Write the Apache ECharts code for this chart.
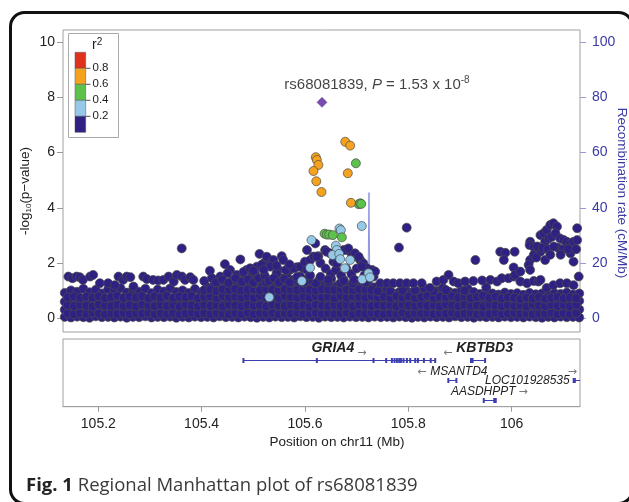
<!DOCTYPE html>
<html>
<head>
<meta charset="utf-8">
<script src="https://cdn.jsdelivr.net/npm/echarts@6/dist/echarts.min.js"></script>
<style>
  html, body { margin: 0; padding: 0; background: #fff; }
  #chart { width: 629px; height: 502px; }
</style>
</head>
<body>
<div id="chart"></div>
<script>
// ---- data ----
// lead SNP
const leadName = 'rs68081839';
const leadP = '1.53';
const leadExp = '-8';
const leadSnp = [[105.633, 7.815]];

// r2 >= 0.6 (orange)
const snpOrange = [[105.678,6.39],[105.6876,6.25],[105.621,5.83],[105.623,5.73],[105.626,5.55],[105.6165,5.33],
  [105.683,5.25],[105.622,4.96],[105.632,4.57],[105.689,4.18]];
// 0.4 - 0.6 (green)
const snpGreen = [[105.6986,5.61],[105.704,4.13],[105.707,4.16],[105.709,4.14],[105.638,3.06],[105.6424,3.03],
  [105.647,3.03],[105.654,3.01],[105.6715,2.93]];
// 0.2 - 0.4 (light blue)
const snpLightBlue = [[105.710,3.34],[105.6668,3.25],[105.6695,3.19],[105.6126,2.83],[105.6598,2.63],[105.6617,2.47],
  [105.6533,2.29],[105.6663,2.33],[105.6682,2.14],[105.6875,2.11],[105.610,1.83],[105.6773,1.81],[105.594,1.35],
  [105.711,1.41],[105.723,1.63],[105.726,1.48],[105.531,0.76]];

// r2 < 0.2 (navy): the dense floor, one column per entry [pos, values...]
const floorCols = [
  [105.135,.05,.31,.6,.92],[105.147,.03,.34,.57,1.01],[105.159,.06,.29,.63,.96],[105.171,.04,.33,.6,1.07],
  [105.183,.02,.3,.58,.94],[105.195,.07,.35,.62,1.03],[105.207,.04,.28,.59,.9],[105.219,.05,.32,.61,1.05],
  [105.231,.03,.36,.56,.98],[105.243,.06,.3,.64,1.09],[105.255,.02,.33,.6,.93],[105.267,.05,.29,.62,1.02],
  [105.279,.04,.34,.58,.96],[105.291,.07,.31,.63,1.07],[105.303,.03,.28,.57,.91],[105.315,.05,.35,.61,1.04],
  [105.327,.04,.3,.59,.97],[105.339,.06,.33,.63,1.08],[105.351,.02,.29,.6,.95],[105.363,.05,.32,.56,1.01],
  [105.375,.03,.36,.62,.92],[105.387,.06,.3,.58,1.06],[105.399,.04,.34,.63,.94],[105.411,.05,.28,.6,.89,1.12],
  [105.423,.03,.33,.61,.9,1.17],[105.435,.07,.31,.57,.86,1.08],[105.447,.04,.35,.63,.91,1.19],
  [105.459,.05,.3,.59,.87,1.14,1.38],[105.471,.03,.33,.62,.9,1.2],[105.483,.06,.29,.58,.88,1.15,1.42],
  [105.495,.04,.34,.61,.93,1.1],[105.507,.02,.31,.64,.89,1.18,1.33],[105.519,.05,.28,.59,.86,1.22],
  [105.531,.03,.33,.6,.91,1.13,1.39],[105.543,.06,.3,.62,.88,1.17],[105.555,.04,.35,.57,.92,1.2,1.45],
  [105.567,.05,.29,.61,.87,1.12],[105.579,.03,.32,.63,.9,1.16,1.36],[105.591,.07,.34,.58,.89,1.21],
  [105.603,.04,.3,.6,.93,1.14,1.41],[105.615,.05,.33,.62,.87,1.19],[105.627,.02,.28,.59,.9,1.15,1.37],
  [105.639,.06,.31,.61,.88,1.22],[105.651,.04,.35,.57,.92,1.13,1.43],[105.663,.05,.29,.63,.86,1.18],
  [105.675,.03,.32,.6,.91,1.16,1.39],[105.687,.06,.34,.58,.89,1.2],[105.699,.04,.3,.62,.93,1.14,1.35],
  [105.711,.05,.33,.59,.87,1.17],[105.723,.03,.28,.61,.9,1.21,1.4],[105.735,.06,.31,.63,.88,1.12],
  [105.747,.04,.35,.6,.92,1.06],[105.759,.05,.3,.57,.86,1.02],[105.771,.03,.33,.62,.91],
  [105.783,.06,.29,.59,.95],[105.795,.04,.34,.61,.88,1.05],[105.807,.02,.31,.63,.93],[105.819,.05,.28,.58,.97],
  [105.831,.03,.32,.6,.9,1.08],[105.843,.06,.35,.62,.94],[105.855,.04,.3,.57,.99],[105.867,.05,.33,.61,.89,1.1],
  [105.879,.03,.29,.64,.96],[105.891,.07,.34,.59,.92],[105.903,.04,.31,.62,1.0],[105.915,.05,.28,.58,.91,1.07],
  [105.927,.02,.33,.6,.95],[105.939,.06,.3,.63,.88],[105.951,.04,.35,.61,.97,1.12],[105.963,.05,.29,.57,.9],
  [105.975,.03,.32,.62,.86],[105.987,.06,.34,.59,.93],[105.999,.04,.3,.61,.88],[106.011,.05,.33,.64,.91],
  [106.023,.03,.28,.58,.85],[106.035,.06,.31,.6,.92],[106.047,.04,.35,.63,.87],[106.059,.02,.3,.57,.9],
  [106.071,.05,.33,.61,.84],[106.083,.03,.29,.59,.91],[106.095,.06,.34,.62,.88],[106.107,.04,.31,.58,.93],
  [106.119,.05,.28,.6,.86],[106.131,.03,.32,.63,.9]
];
// second, staggered set of floor columns
const floorCols2 = [
  [105.141,.18,.47,.76],[105.153,.15,.44,.79],[105.165,.19,.48,.74],[105.177,.16,.45,.78],[105.189,.2,.43,.75],
  [105.201,.17,.49,.8],[105.213,.14,.46,.73],[105.225,.18,.44,.77],[105.237,.16,.48,.81],[105.249,.19,.45,.74],
  [105.261,.15,.47,.78],[105.273,.18,.43,.76],[105.285,.17,.49,.8],[105.297,.2,.46,.73],[105.309,.14,.44,.79],
  [105.321,.18,.48,.75],[105.333,.16,.45,.81],[105.345,.19,.47,.74],[105.357,.15,.43,.78],[105.369,.17,.49,.76],
  [105.381,.2,.46,.8],[105.393,.16,.44,.73],[105.405,.18,.48,.77,1.02],[105.417,.15,.45,.79,1.05],
  [105.429,.19,.47,.74,.98],[105.441,.17,.43,.8,1.04],[105.453,.14,.49,.76,1.03],[105.465,.18,.46,.78,1.06],
  [105.477,.16,.44,.75,1.01],[105.489,.2,.48,.79,1.04],[105.501,.15,.45,.73,1.05,1.28],[105.513,.18,.47,.81,1.02],
  [105.525,.17,.43,.76,1.06,1.3],[105.537,.19,.49,.78,1.03],[105.549,.14,.46,.74,1.01,1.27],[105.561,.18,.44,.8,1.05],
  [105.573,.16,.48,.77,1.04,1.29],[105.585,.2,.45,.75,1.02],[105.597,.15,.47,.79,1.06,1.3],[105.609,.17,.43,.74,1.03],
  [105.621,.19,.49,.8,1.01,1.27],[105.633,.16,.46,.76,1.05],[105.645,.18,.44,.78,1.04,1.31],[105.657,.15,.48,.73,1.02],
  [105.669,.17,.45,.81,1.06,1.28],[105.681,.2,.47,.75,1.03],[105.693,.14,.43,.79,1.01,1.26],[105.705,.18,.49,.77,1.05],
  [105.717,.16,.46,.74,1.04,1.3],[105.729,.19,.44,.8,1.02],[105.741,.17,.48,.76,.98],[105.753,.15,.45,.78],
  [105.765,.18,.47,.74,.99],[105.777,.16,.43,.8],[105.789,.2,.49,.75,1.0],[105.801,.14,.46,.79],
  [105.813,.18,.44,.73,1.01],[105.825,.17,.48,.77],[105.837,.19,.45,.81],[105.849,.15,.47,.74,.98],
  [105.861,.18,.43,.78],[105.873,.16,.49,.76,1.02],[105.885,.2,.46,.8],[105.897,.15,.44,.75],
  [105.909,.17,.48,.79,1.0],[105.921,.19,.45,.73],[105.933,.14,.47,.77],[105.945,.18,.43,.81],
  [105.957,.16,.49,.74],[105.969,.2,.46,.78],[105.981,.15,.44,.72],[105.993,.17,.48,.76],
  [106.005,.19,.45,.74],[106.017,.16,.47,.7],[106.029,.18,.43,.75],[106.041,.14,.49,.72],
  [106.053,.18,.46,.76],[106.065,.17,.44,.71],[106.077,.2,.48,.74],[106.089,.15,.45,.77],
  [106.101,.18,.47,.72],[106.113,.16,.43,.75],[106.125,.19,.49,.73]
];
// navy points standing above the floor
const navyUpper = [
  [105.142,1.51],[105.150,1.45],[105.158,1.51],[105.164,1.49],[105.170,1.39],[105.184,1.51],[105.190,1.57],
  [105.203,1.27],[105.219,1.27],[105.232,1.2],[105.239,1.51],[105.248,1.39],[105.255,1.51],[105.262,1.49],
  [105.268,1.15],[105.287,1.51],[105.294,1.42],[105.306,1.39],[105.316,1.37],[105.326,1.39],[105.336,1.51],
  [105.346,1.33],[105.352,1.57],[105.362,1.51],[105.368,1.39],[105.378,1.49],[105.384,1.39],[105.3615,2.53],
  [105.416,1.72],[105.436,1.51],[105.445,1.96],[105.455,1.75],[105.462,1.39],[105.468,1.57],[105.475,2.13],
  [105.487,1.75],[105.497,1.51],[105.507,1.87],[105.512,2.33],[105.52,1.99],[105.526,2.23],[105.533,1.95],
  [105.539,2.11],[105.549,1.75],[105.555,2.25],[105.558,2.11],[105.565,1.51],[105.571,1.75],[105.578,1.39],
  [105.584,1.85],[105.591,1.51],[105.597,1.81],[105.607,1.39],[105.617,2.23],[105.626,2.25],
  [105.45,1.63],[105.481,1.68],[105.494,1.81],[105.503,1.63],[105.516,1.93],[105.533,1.87],[105.545,1.63],
  [105.563,1.75],[105.578,1.81],[105.591,1.87],[105.604,1.75],
  [105.405,1.35],[105.42,1.45],[105.428,1.3],[105.44,1.4],[105.452,1.28],[105.466,1.45],[105.478,1.32],
  [105.49,1.4],[105.5,1.3],[105.51,1.45],[105.522,1.55],[105.53,1.35],[105.54,1.45],[105.55,1.3],[105.56,1.42],
  [105.57,1.3],[105.585,1.5],[105.598,1.3],[105.61,1.55],[105.52,1.75],[105.5,1.72],[105.545,1.9],[105.57,1.95],
  [105.6,2.05],[105.61,2.1],[105.63,2.0],[105.64,1.8],[105.65,1.6],[105.66,1.75],[105.67,1.55],[105.68,1.8],
  [105.69,1.6],[105.7,1.8],[105.715,1.55],[105.63,1.5],[105.645,1.4],[105.675,1.35],[105.695,1.4],
  [105.62,2.71],[105.639,2.47],[105.649,2.35],[105.681,2.47],[105.691,2.29],[105.7,2.23],[105.707,2.11],
  [105.713,1.99],[105.72,1.81],[105.733,1.51],[105.746,1.27],
  [105.604,2.47],[105.617,2.23],[105.623,2.23],[105.642,2.41],[105.655,2.05],[105.662,1.99],[105.675,2.47],
  [105.684,2.53],[105.697,2.35],[105.704,2.23],[105.71,1.87],[105.73,1.75],[105.736,1.69],
  [105.759,1.27],[105.771,1.27],[105.784,1.27],[105.797,1.27],[105.81,1.27],[105.797,3.28],[105.782,2.56],
  [105.826,1.27],[105.842,1.1],[105.855,1.33],[105.868,1.39],[105.878,1.57],[105.888,1.33],[105.897,1.27],
  [105.91,1.33],[105.926,1.35],[105.943,1.37],[105.959,1.39],[105.972,1.33],[105.981,1.45],[105.994,1.45],
  [106.004,1.51],[106.017,1.33],[106.03,1.27],[106.043,1.35],[106.052,1.33],[106.068,1.1],[106.081,1.2],
  [106.094,1.27],[106.107,1.27],[106.12,1.2],[106.13,1.51],
  [105.93,2.11],[105.978,2.41],[105.988,2.37],[106.006,2.41],[105.985,2.11],[106.004,1.84],[106.007,1.57],
  [106.036,2.77],[106.035,2.65],[106.043,2.59],[106.046,2.41],
  [106.056,3.01],[106.062,3.08],[106.068,3.2],[106.075,3.38],[106.081,3.44],[106.088,3.32],[106.065,2.77],
  [106.072,2.89],[106.078,2.95],[106.085,3.08],[106.065,2.11],[106.094,2.89],[106.101,2.83],[106.107,2.77],
  [106.114,2.71],[106.12,2.77],[106.127,2.83],[106.114,2.35],[106.127,3.26],
  [106.036,2.11],[106.043,2.29],[106.056,2.41],[106.033,1.93],[106.036,1.75],[106.056,1.39],[106.017,1.69],
  [106.05,2.6],[106.06,2.55],[106.07,2.5],[106.09,2.55],[106.1,2.5],[106.075,2.3],[106.082,2.6],[106.095,2.3],
  [106.11,2.5],[106.125,2.5],[106.12,2.05],[106.048,2.2]
];

// recombination rate (cM/Mb)
const recombPos  = [105.132, 105.20, 105.30, 105.40, 105.410, 105.4125, 105.415, 105.50, 105.60, 105.70,
  105.722, 105.724, 105.726, 105.80, 105.90, 106.00, 106.10, 106.132];
const recombRate = [0.5, 1.2, 0.8, 1.5, 6, 18, 2, 1, 0.7, 1.1, 10, 45.5, 3, 0.6, 1.3, 2.5, 1.8, 0.9];

// genes
const geneNames  = ['GRIA4', 'KBTBD3', 'MSANTD4', 'LOC101928535', 'AASDHPPT'];
const geneStart  = [105.4809, 105.9215, 105.8776, 106.1203, 105.9462];
const geneEnd    = [105.8522, 105.9488, 105.8932, 106.15, 105.9694];
const geneStrand = ['+', '-', '-', '+', '+'];
const geneRow    = [0, 0, 1, 1, 2];
const geneExons  = [
  [105.4809, 105.623, 105.7327, 105.7573, 105.7683, 105.7734, 105.778, 105.7825, 105.7858, 105.7908,
   105.7974, 105.8038, 105.8135, 105.8187, 105.8303, 105.8435, 105.8522],
  [105.9215, 105.9245, 105.9488],
  [105.8776, 105.8932],
  [106.1203, 106.1225],
  [105.9462, 105.9665, 105.9694]
];

// axes
const xTicks = [105.2, 105.4, 105.6, 105.8, 106];
const pTicks = [0, 2, 4, 6, 8, 10];
const rTicks = [0, 20, 40, 60, 80, 100];
const r2Colors = ['#E0301E', '#F5A21E', '#5CC24B', '#96C9E8', '#2E2183'];
const r2Labels = ['0.8', '0.6', '0.4', '0.2'];

// ---- chart ----
const FONT = '"Liberation Sans", Arial, sans-serif';
const geneColor = '#3d3db3';
const chart = echarts.init(document.getElementById('chart'));

let navyPts = [];
floorCols.concat(floorCols2).forEach((c) => {
  for (let i = 1; i < c.length; i++) navyPts.push([c[0], c[i]]);
});
navyPts = navyPts.concat(navyUpper);

const mctx = document.createElement('canvas').getContext('2d');
function textW(t, font) {
  mctx.font = font;
  return mctx.measureText(t).width;
}

function renderGene(params, api) {
  const i = api.value(3);
  const s = api.coord([api.value(0), api.value(2)]);
  const e = api.coord([api.value(1), api.value(2)]);
  const right = params.coordSys.x + params.coordSys.width;
  const y = Math.round(s[1]) + 0.5;
  const kids = [{
    type: 'line', shape: { x1: s[0], y1: y, x2: e[0], y2: y },
    style: { stroke: geneColor, lineWidth: 1 }
  }];
  geneExons[i].forEach((ex) => {
    const px = api.coord([ex, 0])[0];
    kids.push({ type: 'rect', shape: { x: px - 1, y: y - 2.5, width: 2, height: 5 }, style: { fill: geneColor } });
  });
  const big = geneRow[i] === 0;
  const font = (big ? 'italic bold 14px ' : 'italic 12px ') + FONT;
  const arrowFont = '11px "DejaVu Sans", sans-serif';
  const name = geneNames[i];
  const w = textW(name, font);
  const aw = 10, gap = 3;
  const ly = y - (big ? 12 : 9);
  const ay = ly + (big ? 4.5 : 1);
  const arrow = geneStrand[i] === '+' ? '\u2192' : '\u2190';
  const txt = (t, x, yy, f, col, align) => ({
    type: 'text', x: x, y: yy,
    style: { text: t, font: f, fill: col, textAlign: align, textVerticalAlign: 'middle' }
  });
  if (right - s[0] < 15) {
    // no room to the right: put the name left of the gene
    kids.push(txt(name, s[0] - 4, y, font, '#222', 'right'));
    kids.push(txt(arrow, s[0] - 6, y - 8, arrowFont, '#777', 'left'));
  } else {
    const W = w + gap + aw;
    let x0 = (s[0] + e[0]) / 2 - W / 2;
    x0 = Math.min(x0, right - 2 - W);
    if (geneStrand[i] === '+') {
      kids.push(txt(name, x0, ly, font, '#222', 'left'));
      kids.push(txt(arrow, x0 + w + gap, ay, arrowFont, '#777', 'left'));
    } else {
      kids.push(txt(arrow, x0, ay, arrowFont, '#777', 'left'));
      kids.push(txt(name, x0 + aw + gap, ly, font, '#222', 'left'));
    }
  }
  return { type: 'group', children: kids };
}

const scatterBase = {
  type: 'scatter', xAxisIndex: 0, yAxisIndex: 0, symbolSize: 9, silent: true, z: 3,
};
function pointStyle(c) {
  return { color: c, borderColor: '#4a4a4a', borderWidth: 0.7, opacity: 1 };
}

// legend boxes
const legendEls = [{
  type: 'rect', shape: { x: 68.5, y: 33.5, width: 50, height: 104 },
  style: { fill: '#fff', stroke: '#aaa', lineWidth: 1 }
}, {
  type: 'text', x: 92, y: 45,
  style: { text: 'r{s|2}', font: '14px ' + FONT, fill: '#222', textVerticalAlign: 'middle', lineHeight: 16,
    rich: { s: { fontSize: 10, verticalAlign: 'top', lineHeight: 10, fontFamily: 'Liberation Sans' } } }
}];
r2Colors.forEach((c, i) => {
  legendEls.push({
    type: 'rect', shape: { x: 75, y: 52.3 + i * 16, width: 10.7, height: 16 },
    style: { fill: c, stroke: '#555', lineWidth: 0.5 }
  });
});
r2Labels.forEach((t, i) => {
  const yy = 68.3 + i * 16;
  legendEls.push({ type: 'line', shape: { x1: 85.7, y1: yy, x2: 90.5, y2: yy }, style: { stroke: '#555', lineWidth: 1 } });
  legendEls.push({ type: 'text', x: 92.5, y: yy, style: { text: t, font: '11.5px ' + FONT, fill: '#222', textVerticalAlign: 'middle' } });
});

const option = {
  animation: false,
  backgroundColor: '#fff',
  grid: [
    { left: 63, top: 30, width: 517, height: 302, show: true, borderColor: '#a0a0a0', borderWidth: 1, outerBoundsMode: 'none' },
    { left: 63, top: 339, width: 517, height: 67.7, show: true, borderColor: '#a0a0a0', borderWidth: 1, outerBoundsMode: 'none' }
  ],
  xAxis: [
    { type: 'value', gridIndex: 0, min: 105.1316, max: 106.1325, show: false },
    {
      type: 'value', gridIndex: 1, min: 105.1316, max: 106.1325, position: 'bottom',
      axisLine: { show: true, onZero: false, lineStyle: { color: '#a0a0a0' } },
      axisTick: { show: true, length: 5, customValues: xTicks, lineStyle: { color: '#999' } },
      axisLabel: { customValues: xTicks, margin: 10, fontSize: 14, color: '#222', fontFamily: FONT,
        formatter: (v) => String(+v.toFixed(1)) },
      splitLine: { show: false }
    }
  ],
  yAxis: [
    {
      type: 'value', gridIndex: 0, position: 'left', min: -0.496, max: 10.434,
      axisLine: { show: false },
      axisTick: { show: true, length: 6, customValues: pTicks, lineStyle: { color: '#999' } },
      axisLabel: { customValues: pTicks, margin: 8, fontSize: 14, color: '#222', fontFamily: FONT },
      splitLine: { show: false }
    },
    {
      type: 'value', gridIndex: 0, position: 'right', min: -4.96, max: 104.34,
      axisLine: { show: false },
      axisTick: { show: true, length: 6, customValues: rTicks, lineStyle: { color: '#9a9ad0' } },
      axisLabel: { customValues: rTicks, margin: 12, fontSize: 14, color: '#3a3aa8', fontFamily: FONT },
      splitLine: { show: false }
    },
    { type: 'value', gridIndex: 1, min: -1.02, max: 2.315, inverse: true, show: false }
  ],
  graphic: [
    {
      type: 'rect', shape: { x: 10.5, y: 12.5, width: 622, height: 491, r: 14 },
      style: { fill: 'none', stroke: '#111', lineWidth: 3 }, z: 100
    },
    {
      type: 'text', x: 25, y: 191, rotation: Math.PI / 2,
      style: { text: '-log{s|10}(p\u2212value)', font: '13.5px ' + FONT, fill: '#222',
        textAlign: 'center', textVerticalAlign: 'middle', lineHeight: 16,
        rich: { s: { fontSize: 8, verticalAlign: 'bottom', lineHeight: 10, fontFamily: 'Liberation Sans' } } }
    },
    {
      type: 'text', x: 622, y: 193, rotation: -Math.PI / 2,
      style: { text: 'Recombination rate (cM/Mb)', font: '13.5px ' + FONT, fill: '#3a3aa8',
        textAlign: 'center', textVerticalAlign: 'middle' }
    },
    {
      type: 'text', x: 337, y: 442,
      style: { text: 'Position on chr11 (Mb)', font: '13.5px ' + FONT, fill: '#222',
        textAlign: 'center', textVerticalAlign: 'middle' }
    },
    {
      type: 'text', x: 26, y: 486,
      style: { text: '{b|Fig. 1} Regional Manhattan plot of rs68081839', font: '18.5px "Open Sans", sans-serif',
        fill: '#3a3a3a', textVerticalAlign: 'middle',
        rich: { b: { fontWeight: 'bold', fontSize: 18.5, fontFamily: 'Open Sans', fill: '#222' } } }
    },
    { type: 'group', z: 50, children: legendEls }
  ],
  series: [
    {
      type: 'line', xAxisIndex: 0, yAxisIndex: 1, z: 1, silent: true, showSymbol: false,
      data: recombPos.map((p, i) => [p, recombRate[i]]),
      lineStyle: { color: '#8c94e0', width: 1 }
    },
    Object.assign({}, scatterBase, { data: navyPts, itemStyle: pointStyle(r2Colors[4]) }),
    Object.assign({}, scatterBase, { data: snpLightBlue, itemStyle: pointStyle(r2Colors[3]) }),
    Object.assign({}, scatterBase, { data: snpGreen, itemStyle: pointStyle(r2Colors[2]) }),
    Object.assign({}, scatterBase, { data: snpOrange, itemStyle: pointStyle(r2Colors[1]) }),
    Object.assign({}, scatterBase, {
      data: leadSnp, symbol: 'diamond', symbolSize: 10,
      itemStyle: { color: '#55209a', borderColor: '#3f1878', borderWidth: 0.5 },
      label: {
        show: true, position: 'top', distance: 2, offset: [55, 0],
        formatter: leadName + ', {i|P} = ' + leadP + ' x 10{s|' + leadExp + '}',
        fontSize: 15, fontFamily: FONT, color: '#111', lineHeight: 20,
        rich: {
          i: { fontStyle: 'italic', fontSize: 15, fontFamily: 'Liberation Sans', color: '#111', lineHeight: 20 },
          s: { fontSize: 10, fontFamily: 'Liberation Sans', color: '#111', verticalAlign: 'top', lineHeight: 11 }
        }
      }
    }),
    {
      type: 'custom', xAxisIndex: 1, yAxisIndex: 2, silent: true, clip: true,
      dimensions: ['start', 'end', 'row', 'idx'],
      encode: { x: [0, 1], y: 2 },
      renderItem: renderGene,
      data: geneNames.map((n, i) => [geneStart[i], geneEnd[i], geneRow[i], i])
    }
  ]
};
chart.setOption(option);
</script>
</body>
</html>
